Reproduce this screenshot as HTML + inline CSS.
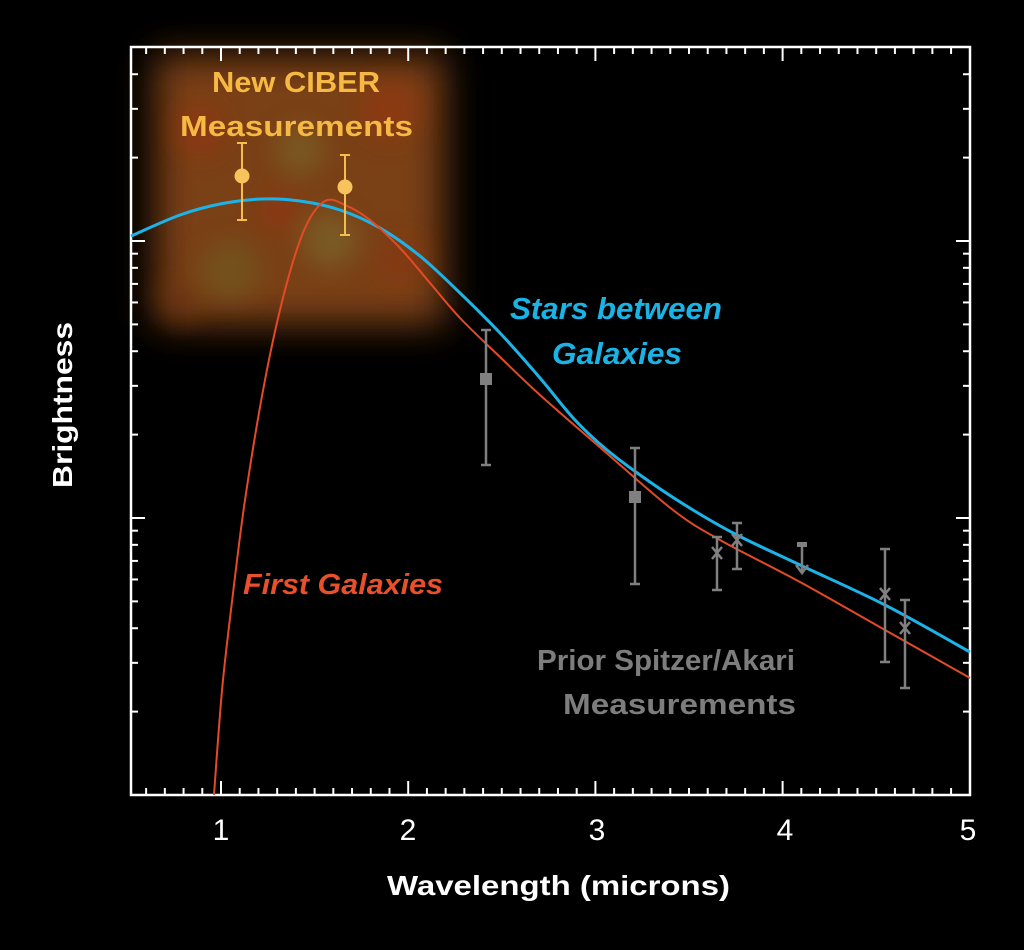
<!DOCTYPE html>
<html><head><meta charset="utf-8"><style>
html,body{margin:0;padding:0;background:#000;}
svg{display:block;}
text{font-family:"Liberation Sans",sans-serif;}
</style></head><body>
<svg width="1024" height="950" viewBox="0 0 1024 950" xmlns="http://www.w3.org/2000/svg">
<defs>
<filter id="bl" x="-40%" y="-40%" width="180%" height="180%"><feGaussianBlur stdDeviation="18"/></filter>
<filter id="bl2" x="-50%" y="-50%" width="200%" height="200%"><feGaussianBlur stdDeviation="12"/></filter>
</defs>
<rect width="1024" height="950" fill="#000"/>
<g filter="url(#bl)">
<rect x="155" y="55" width="290" height="270" fill="#7a4012"/>
</g>
<g filter="url(#bl2)" opacity="0.55">
<circle cx="200" cy="130" r="25" fill="#9a320c"/>
<circle cx="390" cy="110" r="30" fill="#9a340c"/>
<circle cx="300" cy="150" r="25" fill="#7a6a2a"/>
<circle cx="230" cy="270" r="30" fill="#6e5e24"/>
<circle cx="330" cy="240" r="28" fill="#7a7030"/>
<circle cx="280" cy="210" r="20" fill="#9a320c"/>
<circle cx="400" cy="260" r="25" fill="#8a3410"/>
<circle cx="180" cy="300" r="20" fill="#6a3010"/>
</g>
<rect x="131" y="47" width="839" height="748" stroke="#fff" stroke-width="2.5" fill="none"/>
<g id="ticks" stroke="#fff" stroke-width="2"></g>
<path id="blue" fill="none" stroke="#1cb4e8" stroke-width="3" stroke-linejoin="round"/>
<path id="red" fill="none" stroke="#e44a26" stroke-width="2" stroke-linejoin="round"/>
<g stroke="#f5bd4e" stroke-width="2" fill="#f7c35c">
<line x1="242" y1="143" x2="242" y2="220"/><line x1="237" y1="143" x2="247" y2="143"/><line x1="237" y1="220" x2="247" y2="220"/>
<circle cx="242" cy="176" r="7.5" stroke="none"/>
<line x1="345" y1="155" x2="345" y2="235"/><line x1="340" y1="155" x2="350" y2="155"/><line x1="340" y1="235" x2="350" y2="235"/>
<circle cx="345" cy="187" r="7.5" stroke="none"/>
</g>
<g stroke="#808080" stroke-width="2.5" fill="#808080">
<line x1="486" y1="330" x2="486" y2="465"/><line x1="481" y1="330" x2="491" y2="330"/><line x1="481" y1="465" x2="491" y2="465"/>
<rect x="480" y="373" width="12" height="12" stroke="none"/>
<line x1="635" y1="448" x2="635" y2="584"/><line x1="630" y1="448" x2="640" y2="448"/><line x1="630" y1="584" x2="640" y2="584"/>
<rect x="629" y="491" width="12" height="12" stroke="none"/>
<line x1="717" y1="537" x2="717" y2="590"/><line x1="712" y1="537" x2="722" y2="537"/><line x1="712" y1="590" x2="722" y2="590"/>
<path d="M712,547 L722,559 M722,547 L712,559" fill="none"/>
<line x1="737" y1="523" x2="737" y2="569"/><line x1="732" y1="523" x2="742" y2="523"/><line x1="732" y1="569" x2="742" y2="569"/>
<path d="M732,534 L742,546 M742,534 L732,546" fill="none"/>
<line x1="802" y1="545" x2="802" y2="573"/><rect x="797" y="542" width="10" height="5" stroke="none"/>
<path d="M796,565 L802,573 L808,565" fill="none"/>
<line x1="885" y1="549" x2="885" y2="662"/><line x1="880" y1="549" x2="890" y2="549"/><line x1="880" y1="662" x2="890" y2="662"/>
<path d="M880,588 L890,600 M890,588 L880,600" fill="none"/>
<line x1="905" y1="600" x2="905" y2="688"/><line x1="900" y1="600" x2="910" y2="600"/><line x1="900" y1="688" x2="910" y2="688"/>
<path d="M900,622 L910,634 M910,622 L900,634" fill="none"/>
</g>
<g font-size="29" fill="#f5b944" font-weight="bold">
<text x="212" y="92" textLength="168" lengthAdjust="spacingAndGlyphs">New CIBER</text>
<text x="180" y="136" textLength="233" lengthAdjust="spacingAndGlyphs">Measurements</text>
</g>
<g font-size="31" fill="#1ab3e6" font-weight="bold" font-style="italic">
<text x="510" y="319" textLength="212" lengthAdjust="spacingAndGlyphs">Stars between</text>
<text x="552" y="364" textLength="130" lengthAdjust="spacingAndGlyphs">Galaxies</text>
</g>
<text x="243" y="594" font-size="29" fill="#e8502a" font-weight="bold" font-style="italic" textLength="200" lengthAdjust="spacingAndGlyphs">First Galaxies</text>
<g font-size="29" fill="#7d7d7d" font-weight="bold">
<text x="537" y="670" textLength="258" lengthAdjust="spacingAndGlyphs">Prior Spitzer/Akari</text>
<text x="563" y="714" textLength="233" lengthAdjust="spacingAndGlyphs">Measurements</text>
</g>
<g font-size="30" fill="#fff" text-anchor="middle">
<text x="221" y="840">1</text><text x="408" y="840">2</text><text x="597" y="840">3</text><text x="785" y="840">4</text><text x="968" y="840">5</text>
</g>
<text x="387" y="895" font-size="28" fill="#fff" font-weight="bold" textLength="343" lengthAdjust="spacingAndGlyphs">Wavelength (microns)</text>
<text transform="translate(72,488) rotate(-90)" font-size="28" fill="#fff" font-weight="bold" textLength="166" lengthAdjust="spacingAndGlyphs">Brightness</text>
</svg>
<script>
(function(){
var g=document.getElementById('ticks'),s='';
function L(a,b,c,d){s+='<line x1="'+a+'" y1="'+b+'" x2="'+c+'" y2="'+d+'"/>';}
for(var i=6;i<=50;i++){var x=221+(i/10-1)*187.2;if(x<132||x>969)continue;var M=i%10==0;var l=M?14:7;L(x,795,x,795-l);L(x,47,x,47+l);}
var y0=518,dec=277;
[0.1,0.2,0.3,0.4,0.5,0.6,0.7,0.8,0.9,1,2,3,4,5,6,7,8,9,10,20,30,40,50].forEach(function(v){var y=y0-Math.log10(v)*dec;if(y<48||y>794)return;var M=(v==1||v==10);var l=M?14:7;L(131,y,131+l,y);L(970,y,970-l,y);});
g.innerHTML=s;
function cr(p){var d='M'+p[0][0]+','+p[0][1];for(var i=0;i<p.length-1;i++){var a=p[i-1]||p[i],b=p[i],c=p[i+1],e=p[i+2]||c;d+=' C'+(b[0]+(c[0]-a[0])/6)+','+(b[1]+(c[1]-a[1])/6)+' '+(c[0]-(e[0]-b[0])/6)+','+(c[1]-(e[1]-b[1])/6)+' '+c[0]+','+c[1];}return d;}
document.getElementById('blue').setAttribute('d',cr([[131,236],[180,215],[220,204],[262,199],[300,201],[340,210],[380,228],[420,256],[460,293],[500,333],[540,378],[575,420],[607,450],[650,482],[693,510],[737,535],[800,565],[885,605],[970,652]]));
document.getElementById('red').setAttribute('d',cr([[214,795],[218,740],[223,680],[231,610],[245,500],[265,380],[285,290],[305,228],[325,201],[345,205],[370,220],[400,248],[430,283],[460,318],[500,357],[540,395],[603,450],[673,510],[720,540],[800,582],[885,630],[970,678]]));
})();
</script>
</body></html>
